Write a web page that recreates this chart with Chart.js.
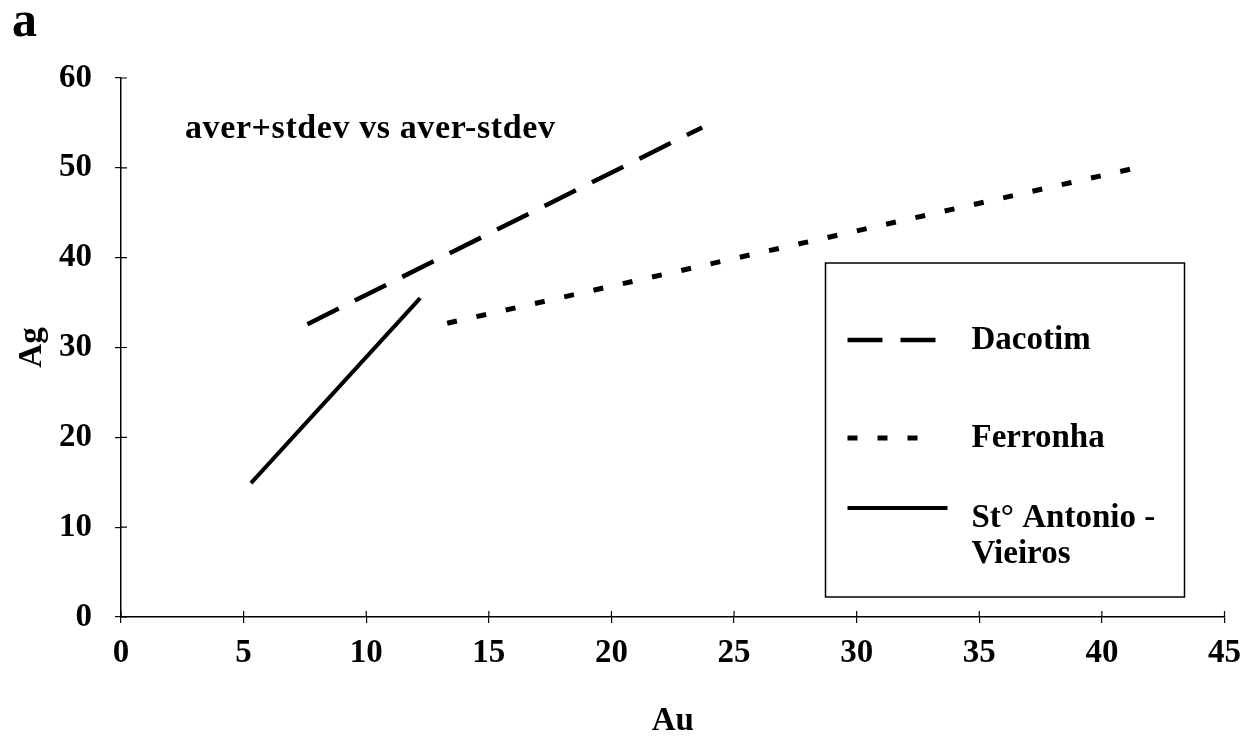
<!DOCTYPE html>
<html>
<head>
<meta charset="utf-8">
<script src="https://cdn.jsdelivr.net/npm/chart.js@4.4.1/dist/chart.umd.min.js"></script>
<style>
  html, body { margin: 0; padding: 0; background: #fff; }
  #wrap { width: 1252px; height: 736px; position: relative; }
</style>
</head>
<body>
<div id="wrap"><canvas id="c" width="1252" height="736"></canvas></div>
<script>
// Ag vs Au trends (aver+stdev vs aver-stdev) for three deposits
const FONT = '"Liberation Serif", "Times New Roman", serif';

const panelLabel = 'a';
const noteText = 'aver+stdev vs aver-stdev';
const xTitle = 'Au';
const yTitle = 'Ag';

const seriesNames = ['Dacotim', 'Ferronha', 'St\u00b0 Antonio - Vieiros'];
const legendLines = [['Dacotim'], ['Ferronha'], ['St\u00b0 Antonio -', 'Vieiros']];

const dacotimAu = [7.6, 23.7];
const dacotimAg = [32.6, 54.5];
const ferronhaAu = [13.3, 41.4];
const ferronhaAg = [32.7, 50.0];
const antonioAu = [5.3, 12.2];
const antonioAg = [14.9, 35.5];

const xMin = 0, xMax = 45, xStep = 5;
const yMin = 0, yMax = 60, yStep = 10;

const toPoints = (xs, ys) => xs.map((x, i) => ({ x: x, y: ys[i] }));

const lineStyles = [
  { dash: [35, 18], width: 4.5 },
  { dash: [10, 20], width: 5 },
  { dash: [], width: 4 }
];

const datasets = [
  toPoints(dacotimAu, dacotimAg),
  toPoints(ferronhaAu, ferronhaAg),
  toPoints(antonioAu, antonioAg)
].map((pts, i) => ({
  label: seriesNames[i],
  data: pts,
  showLine: true,
  borderColor: '#000',
  backgroundColor: '#000',
  borderWidth: lineStyles[i].width,
  borderDash: lineStyles[i].dash,
  borderCapStyle: 'butt',
  pointRadius: 0,
  pointHoverRadius: 0,
  tension: 0
}));

// tick marks that cross the axis lines (inner half)
const innerTicks = {
  id: 'innerTicks',
  afterDraw(chart) {
    const { ctx, chartArea: a, scales } = chart;
    ctx.save();
    ctx.strokeStyle = '#000';
    ctx.lineWidth = 1.2;
    ctx.beginPath();
    scales.x.ticks.forEach(t => {
      const px = scales.x.getPixelForValue(t.value);
      ctx.moveTo(px, a.bottom);
      ctx.lineTo(px, a.bottom - 6);
    });
    scales.y.ticks.forEach(t => {
      const py = scales.y.getPixelForValue(t.value);
      ctx.moveTo(a.left, py);
      ctx.lineTo(a.left + 6, py);
    });
    ctx.stroke();
    ctx.restore();
  }
};

// panel letter and note text
const annotations = {
  id: 'annotations',
  afterDraw(chart) {
    const { ctx, chartArea: a } = chart;
    ctx.save();
    ctx.fillStyle = '#000';
    ctx.textBaseline = 'alphabetic';
    ctx.textAlign = 'left';
    ctx.font = 'bold 50px ' + FONT;
    ctx.fillText(panelLabel, 12, 36);
    ctx.font = 'bold 34px ' + FONT;
    if ('letterSpacing' in ctx) ctx.letterSpacing = '0.6px';
    ctx.fillText(noteText, a.left + 64, a.top + 60);
    ctx.restore();
  }
};

// framed legend inside the plot area
const boxLegend = {
  id: 'boxLegend',
  afterDraw(chart) {
    const { ctx, chartArea: a } = chart;
    const left = a.right - 399, right = a.right - 40;
    const top = a.top + 185, bottom = a.bottom - 20;
    ctx.save();
    ctx.fillStyle = '#fff';
    ctx.fillRect(left, top, right - left, bottom - top);
    ctx.strokeStyle = '#000';
    ctx.lineWidth = 1.5;
    ctx.strokeRect(left, top, right - left, bottom - top);

    const rowY = [a.top + 262, a.top + 360, a.top + 440];
    const sampleEnd = [left + 112, left + 112, left + 122];
    chart.data.datasets.forEach((ds, i) => {
      const y = rowY[i];
      const lines = legendLines[i];
      const sy = lines.length > 1 ? y - 10 : y;
      ctx.beginPath();
      ctx.setLineDash(ds.borderDash || []);
      ctx.lineWidth = ds.borderWidth;
      ctx.lineCap = 'butt';
      ctx.moveTo(left + 22, sy);
      ctx.lineTo(sampleEnd[i], sy);
      ctx.stroke();
      ctx.setLineDash([]);
      ctx.fillStyle = '#000';
      ctx.font = 'bold 33px ' + FONT;
      ctx.textBaseline = 'middle';
      ctx.textAlign = 'left';
      lines.forEach((txt, j) => ctx.fillText(txt, left + 146, y + j * 36));
    });
    ctx.restore();
  }
};

new Chart(document.getElementById('c'), {
  type: 'scatter',
  data: { datasets: datasets },
  options: {
    responsive: false,
    animation: false,
    devicePixelRatio: 1,
    layout: { padding: { left: 0, right: 27, top: 78, bottom: 0 } },
    plugins: {
      legend: { display: false },
      tooltip: { enabled: false }
    },
    scales: {
      x: {
        type: 'linear',
        min: xMin, max: xMax,
        afterFit(s) { s.height = 119; },
        ticks: {
          stepSize: xStep,
          color: '#000',
          padding: 11,
          maxRotation: 0,
          font: { family: FONT, size: 33, weight: 'bold' }
        },
        grid: { drawOnChartArea: false, drawTicks: true, tickLength: 6, color: '#000', lineWidth: 1.2 },
        border: { display: true, color: '#000', width: 1.5 },
        title: {
          display: true,
          text: xTitle,
          color: '#000',
          font: { family: FONT, size: 33, weight: 'bold', lineHeight: 1 },
          padding: { top: 0, bottom: -2 }
        }
      },
      y: {
        type: 'linear',
        min: yMin, max: yMax,
        afterFit(s) { s.width = 121; },
        ticks: {
          stepSize: yStep,
          color: '#000',
          padding: 23,
          font: { family: FONT, size: 33, weight: 'bold' }
        },
        grid: { drawOnChartArea: false, drawTicks: true, tickLength: 6, color: '#000', lineWidth: 1.2 },
        border: { display: true, color: '#000', width: 1.5 },
        title: {
          display: true,
          text: yTitle,
          color: '#000',
          font: { family: FONT, size: 33, weight: 'bold', lineHeight: 1 },
          padding: { top: 16, bottom: 0 }
        }
      }
    }
  },
  plugins: [innerTicks, annotations, boxLegend]
});
</script>
</body>
</html>
